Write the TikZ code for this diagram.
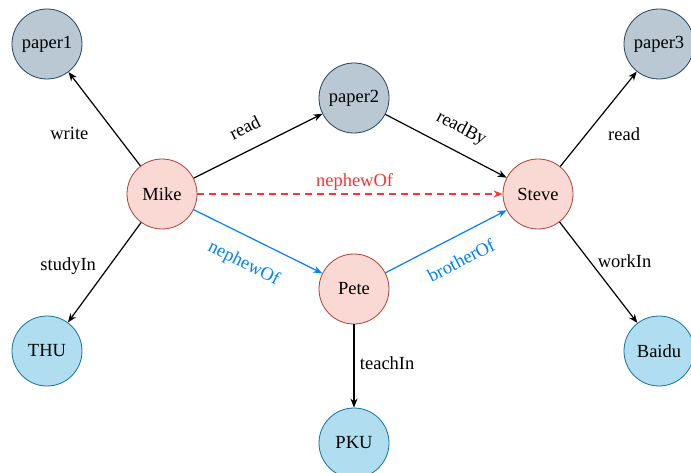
\documentclass[tikz,border=0pt]{standalone}
\usepackage{fontspec}
\setmainfont{Liberation Serif}
\usetikzlibrary{arrows.meta}

\definecolor{paperfill}{HTML}{BAC8D3}
\definecolor{paperline}{HTML}{23445D}
\definecolor{personfill}{HTML}{FAD9D5}
\definecolor{personline}{HTML}{AE4132}
\definecolor{placefill}{HTML}{B1DDF0}
\definecolor{placeline}{HTML}{10739E}
\definecolor{kinblue}{HTML}{007FFF}
\definecolor{kinred}{HTML}{FF3333}

\begin{document}
\begin{tikzpicture}[x=1pt,y=-1pt,
        font=\rmfamily\fontsize{18.5}{21}\selectfont,
        ent/.style={circle,minimum size=70pt,inner sep=0pt,line width=0.8pt},
        paper/.style={ent,fill=paperfill,draw=paperline},
        person/.style={ent,fill=personfill,draw=personline},
        place/.style={ent,fill=placefill,draw=placeline},
        rel/.style={line width=1.2pt,-{Stealth[length=9pt,width=7pt]}}]
        \useasboundingbox (0,0) rectangle (691,473);

        % entities
        \node [paper] (paper1) at(47,44) {paper1};
        \node [paper] (paper2) at(354,98) {paper2};
        \node [paper] (paper3) at(659,44) {paper3};
        \node [person] (mike) at(162,194) {Mike};
        \node [person] (steve) at(538,194) {Steve};
        \node [person] (pete) at(354,289) {Pete};
        \node [place] (thu) at(47,351) {THU};
        \node [place] (baidu) at(659,351) {Baidu};
        \node [place] (pku) at(354,443) {PKU};

        % relations
        \draw [rel] (mike)--(paper1) node [pos=0.35,left=23pt] {write};
        \draw [rel] (mike)--(thu) node [pos=0.44,left=9pt] {studyIn};
        \draw [rel] (mike)--(paper2) node [pos=0.475,sloped,above=12pt] {read};
        \draw [rel] (paper2)--(steve) node [pos=0.54,sloped,above=10pt] {readBy};
        \draw [rel] (steve)--(paper3) node [pos=0.34,right=18pt] {read};
        \draw [rel] (steve)--(baidu) node [pos=0.39,right=4pt] {workIn};
        \draw [rel] (pete)--(pku) node [pos=0.47,right=2pt] {teachIn};
        \draw [rel,kinred,dash pattern=on 7pt off 5pt] (mike)--(steve) node [pos=0.515,above] {nephewOf};
        \draw [rel,kinblue] (mike)--(pete) node [pos=0.48,sloped,below=14pt] {nephewOf};
        \draw [rel,kinblue] (pete)--(steve) node [pos=0.535,sloped,below=13pt] {brotherOf};
    \end{tikzpicture}
\end{document}
